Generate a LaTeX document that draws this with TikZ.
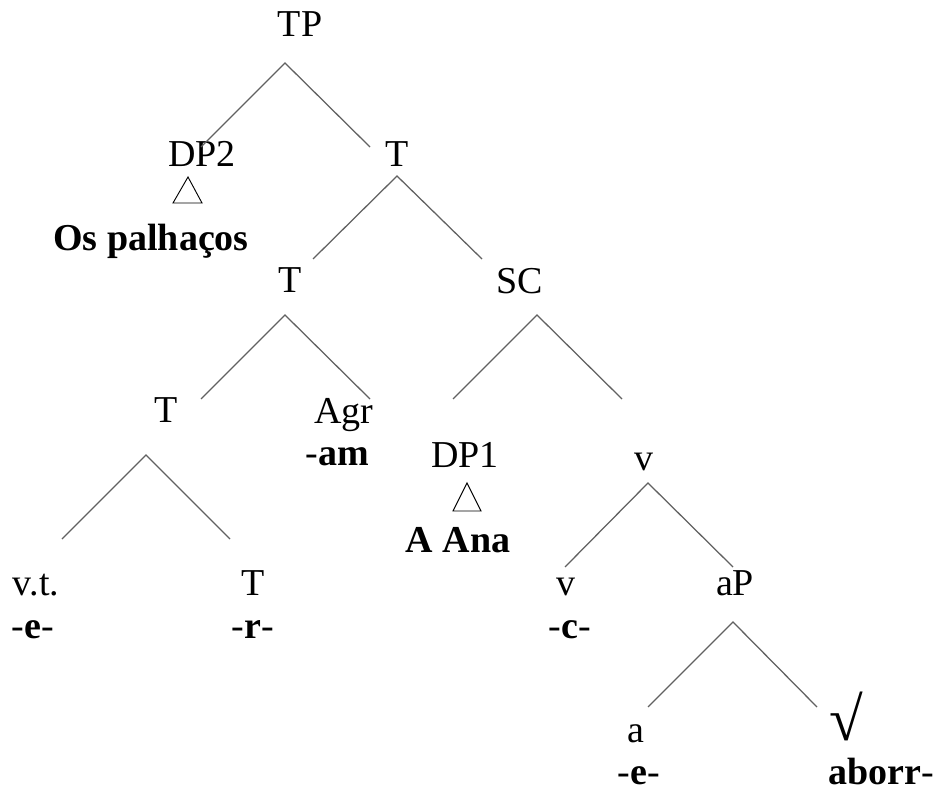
\documentclass[tikz,border=0pt]{standalone}
\usepackage{fontspec}
\setmainfont{Liberation Serif}
\begin{document}
\begin{tikzpicture}[x=0.75pt,y=-0.75pt,
  lbl/.style={inner sep=0pt,anchor=base,font=\fontsize{28.5}{33}\selectfont},
  branch/.style={draw=black!62,line width=0.95pt},
  tri/.style={draw=black,line width=0.7pt}]
\useasboundingbox (0,0) rectangle (934,791);

% category labels
\node[lbl] (tp)   at (300,37)  {TP};
\node[lbl] (dp2)  at (202,167) {DP2};
\node[lbl] (tbar) at (397,167) {T};
\node[lbl] (dp2w) at (151,251) {\textbf{Os palhaços}};
\node[lbl] (t3)   at (290,293) {T};
\node[lbl] (sc)   at (520,294) {SC};
\node[lbl] (t4)   at (166,422) {T};
\node[lbl] (agr)  at (344,423) {Agr};
\node[lbl] (agrm) at (337,465) {-\textbf{am}};
\node[lbl] (dp1)  at (465,467) {DP1};
\node[lbl] (dp1w) at (458,552) {\textbf{A Ana}};
\node[lbl] (vp)   at (644,470) {v};
\node[lbl] (vt)   at (36,595)  {v.t.};
\node[lbl] (vtm)  at (33,638)  {-\textbf{e}-};
\node[lbl] (t5)   at (253,595) {T};
\node[lbl] (t5m)  at (253,638) {-\textbf{r}-};
\node[lbl] (v5)   at (566,595) {v};
\node[lbl] (v5m)  at (570,638) {-\textbf{c}-};
\node[lbl] (ap)   at (735,595) {aP};
\node[lbl] (a6)   at (636,742) {a};
\node[lbl] (a6m)  at (639,784) {-\textbf{e}-};
\node[lbl,font=\fontsize{46}{50}\selectfont] (root) at (846,740) {√};
\node[lbl] (rootm) at (881,784) {\textbf{aborr}-};

% branch points: apex, left end, right end
\coordinate (tp-a) at (285,63);  \coordinate (tp-l) at (201,147); \coordinate (tp-r) at (370,147);
\coordinate (tb-a) at (397,176); \coordinate (tb-l) at (313,259); \coordinate (tb-r) at (482,259);
\coordinate (t3-a) at (285,315); \coordinate (t3-l) at (201,399); \coordinate (t3-r) at (370,399);
\coordinate (sc-a) at (537,315); \coordinate (sc-l) at (453,399); \coordinate (sc-r) at (622,399);
\coordinate (t4-a) at (146,455); \coordinate (t4-l) at (62,539);  \coordinate (t4-r) at (230,539);
\coordinate (vp-a) at (648,483); \coordinate (vp-l) at (565,567); \coordinate (vp-r) at (733,567);
\coordinate (ap-a) at (733,622); \coordinate (ap-l) at (648,707); \coordinate (ap-r) at (817,707);

\foreach \n in {tp,tb,t3,sc,t4,vp,ap}
  \draw[branch] (\n-l) -- (\n-a) -- (\n-r);

% triangles for unanalysed phrases
\draw[tri] (188,177) -- (202,203) -- (173,203) -- cycle;
\draw[tri] (467,483) -- (481,511) -- (453,511) -- cycle;
\end{tikzpicture}
\end{document}
